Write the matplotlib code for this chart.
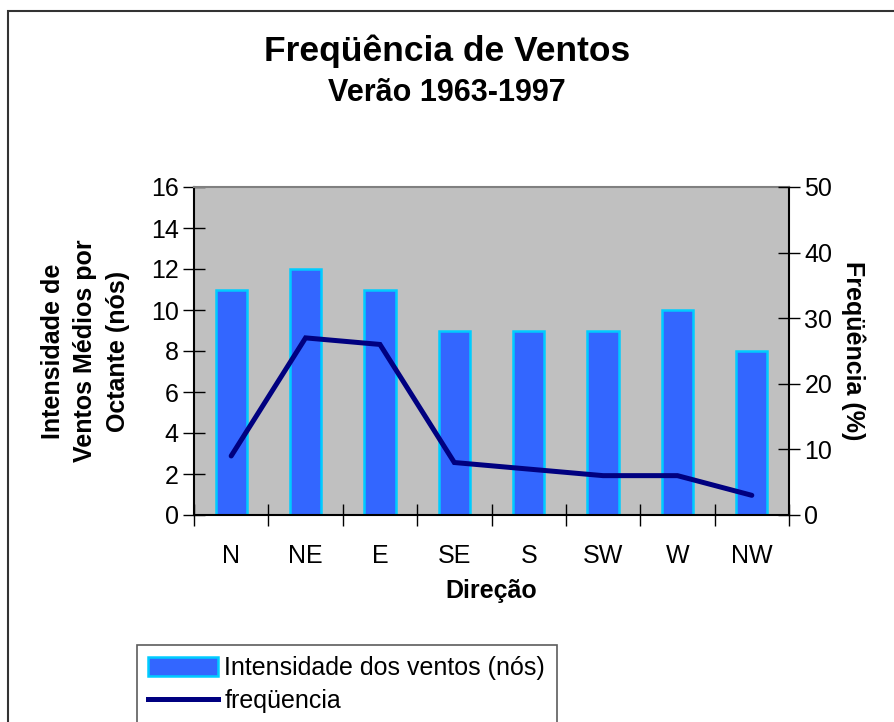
import numpy as np
import matplotlib
matplotlib.use('Agg')
import matplotlib.pyplot as plt
from matplotlib.patches import Rectangle, Patch
from matplotlib.lines import Line2D

plt.rcParams['font.family'] = ['Liberation Sans', 'DejaVu Sans']

direcoes = ['N', 'NE', 'E', 'SE', 'S', 'SW', 'W', 'NW']
intensidade = [11, 12, 11, 9, 9, 9, 10, 8]   # nós
frequencia = [9, 27, 26, 8, 7, 6, 6, 3]      # %

fig = plt.figure(figsize=(8.94, 7.22), dpi=100)

# moldura externa (corta na direita e embaixo)
fig.patches.append(Rectangle((8/894, -0.1), 1.0, 1 - 11/722 + 0.1,
                             transform=fig.transFigure, fill=False,
                             edgecolor='#333333', linewidth=1.5))

ax = fig.add_axes([194/894, 1 - 515/722, 595/894, 328/722])
ax.set_facecolor('#c0c0c0')
x = np.arange(len(direcoes))
ax.bar(x, intensidade, width=0.42, color='#3366ff', edgecolor='#00ccff',
       linewidth=1.8, zorder=2)
ax.set_xlim(-0.5, len(direcoes) - 0.5)
ax.set_ylim(0, 16)
ax.set_yticks(range(0, 17, 2))
ax.set_xticks(x)
ax.set_xticklabels(direcoes)
ax.set_xticks(np.arange(-0.5, len(direcoes)), minor=True)
ax.tick_params(axis='x', which='major', length=0, pad=21, labelsize=18)
ax.tick_params(axis='x', which='minor', direction='inout', length=16, width=1)
ax.tick_params(axis='y', direction='inout', length=16, width=1, labelsize=18, pad=3)
ax.spines['top'].set_color('#808080')
for s in ['left', 'bottom', 'right']:
    ax.spines[s].set_color('black')
for s in ax.spines.values():
    s.set_linewidth(1.5)
ax.set_xlabel('Direção', fontsize=18, fontweight='bold', labelpad=8)
ax.set_ylabel('Intensidade de\nVentos Médios por\nOctante (nós)', fontsize=18,
              fontweight='bold', labelpad=15, linespacing=1.45)

ax2 = ax.twinx()
ax2.plot(x, frequencia, color='#000080', linewidth=3.6, zorder=3,
         solid_joinstyle='miter', solid_capstyle='round')
ax2.set_ylim(0, 50)
ax2.set_yticks(range(0, 51, 10))
ax2.tick_params(axis='y', direction='inout', length=16, width=1, labelsize=18, pad=3)
ax2.set_ylabel('Freqüência (%)', fontsize=18, fontweight='bold', rotation=-90,
               labelpad=24)
for s in ax2.spines.values():
    s.set_visible(False)

fig.text(0.5, 1 - 61/722, 'Freqüência de Ventos', ha='center', va='baseline',
         fontsize=25.5, fontweight='bold')
fig.text(0.5, 1 - 101/722, 'Verão 1963-1997', ha='center', va='baseline',
         fontsize=22, fontweight='bold')

handles = [Patch(facecolor='#3366ff', edgecolor='#00ccff', linewidth=1.8),
           Line2D([], [], color='#000080', linewidth=3.6)]
labels = ['Intensidade dos ventos (nós)', 'freqüencia']
leg = fig.legend(handles, labels, loc='upper left',
                 bbox_to_anchor=(137/894, 1 - 645/722), fontsize=18,
                 frameon=True, fancybox=False, edgecolor='#333333',
                 handlelength=2.8, handleheight=0.8, handletextpad=0.25,
                 borderpad=0.45, labelspacing=0.35, borderaxespad=0)
leg.get_frame().set_linewidth(1.2)

fig.savefig('out.png', dpi=100)
